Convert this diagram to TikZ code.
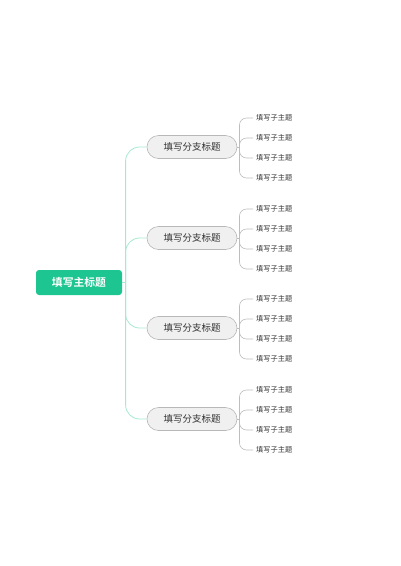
\documentclass[tikz,border=0pt]{standalone}
\usepackage{fontspec}
\newfontfamily\cjk{Noto Sans CJK SC}[BoldFont={Noto Sans CJK SC Bold}]
\usetikzlibrary{positioning}
\definecolor{mainGreen}{HTML}{1DC690}
\definecolor{lineGreen}{HTML}{A6E8D0}
\definecolor{branchFill}{HTML}{F0F0F0}
\definecolor{branchLine}{HTML}{B8B8B8}
\definecolor{leafLine}{HTML}{BDBDBD}
\definecolor{textGray}{HTML}{333333}

\begin{document}
\begin{tikzpicture}[
            x=1pt, y=-1pt,
            main/.style={
                fill=mainGreen, rounded corners=3pt,
                minimum width=86pt, minimum height=25pt,
                text=white, font=\cjk\bfseries\fontsize{10.8}{12}\selectfont
            },
            branch/.style={
                fill=branchFill, draw=branchLine, line width=0.6pt,
                rounded corners=11.5pt,
                minimum width=90pt, minimum height=23pt,
                text=textGray, font=\cjk\fontsize{9.5}{11}\selectfont
            },
            leaf/.style={
                anchor=west, inner xsep=3pt, inner ysep=1pt,
                text=textGray, font=\cjk\fontsize{7.2}{8}\selectfont
            },
            trunk/.style={draw=lineGreen, line width=0.8pt, rounded corners=14pt},
            twig/.style={draw=leafLine, line width=0.6pt, rounded corners=7pt}
        ]
        \useasboundingbox (0, 0) rectangle (400, 566);
        \def\trunkX{125.6}
        \def\forkX{239.5}
        \def\leafX{253}

        \node (topic) at (79, 282.5)[main] {填写主标题};
        \coordinate (hub) at (\trunkX, 282.5);
        \draw[draw=lineGreen, line width=0.8pt] (topic.east) -- (hub);

        % branch one
        \def\by{147}
        \node (branchA) at (192, \by)[branch] {填写分支标题};
        \coordinate (forkA) at (\forkX, \by);
        \node (leafA1) at (\leafX, \by - 29)[leaf] {填写子主题};
        \node (leafA2) at (\leafX, \by - 9)[leaf] {填写子主题};
        \node (leafA3) at (\leafX, \by + 11)[leaf] {填写子主题};
        \node (leafA4) at (\leafX, \by + 31)[leaf] {填写子主题};
        \draw[trunk] (hub) |- (branchA.west);
        \draw[twig] (branchA.east) -- (forkA);
        \draw[twig] (forkA) |- (leafA1.west);
        \draw[twig] (forkA) |- (leafA2.west);
        \draw[twig] (forkA) |- (leafA3.west);
        \draw[twig] (forkA) |- (leafA4.west);

        % branch two
        \def\by{238}
        \node (branchB) at (192, \by)[branch] {填写分支标题};
        \coordinate (forkB) at (\forkX, \by);
        \node (leafB1) at (\leafX, \by - 29)[leaf] {填写子主题};
        \node (leafB2) at (\leafX, \by - 9)[leaf] {填写子主题};
        \node (leafB3) at (\leafX, \by + 11)[leaf] {填写子主题};
        \node (leafB4) at (\leafX, \by + 31)[leaf] {填写子主题};
        \draw[trunk] (hub) |- (branchB.west);
        \draw[twig] (branchB.east) -- (forkB);
        \draw[twig] (forkB) |- (leafB1.west);
        \draw[twig] (forkB) |- (leafB2.west);
        \draw[twig] (forkB) |- (leafB3.west);
        \draw[twig] (forkB) |- (leafB4.west);

        % branch three
        \def\by{328}
        \node (branchC) at (192, \by)[branch] {填写分支标题};
        \coordinate (forkC) at (\forkX, \by);
        \node (leafC1) at (\leafX, \by - 29)[leaf] {填写子主题};
        \node (leafC2) at (\leafX, \by - 9)[leaf] {填写子主题};
        \node (leafC3) at (\leafX, \by + 11)[leaf] {填写子主题};
        \node (leafC4) at (\leafX, \by + 31)[leaf] {填写子主题};
        \draw[trunk] (hub) |- (branchC.west);
        \draw[twig] (branchC.east) -- (forkC);
        \draw[twig] (forkC) |- (leafC1.west);
        \draw[twig] (forkC) |- (leafC2.west);
        \draw[twig] (forkC) |- (leafC3.west);
        \draw[twig] (forkC) |- (leafC4.west);

        % branch four
        \def\by{419}
        \node (branchD) at (192, \by)[branch] {填写分支标题};
        \coordinate (forkD) at (\forkX, \by);
        \node (leafD1) at (\leafX, \by - 29)[leaf] {填写子主题};
        \node (leafD2) at (\leafX, \by - 9)[leaf] {填写子主题};
        \node (leafD3) at (\leafX, \by + 11)[leaf] {填写子主题};
        \node (leafD4) at (\leafX, \by + 31)[leaf] {填写子主题};
        \draw[trunk] (hub) |- (branchD.west);
        \draw[twig] (branchD.east) -- (forkD);
        \draw[twig] (forkD) |- (leafD1.west);
        \draw[twig] (forkD) |- (leafD2.west);
        \draw[twig] (forkD) |- (leafD3.west);
        \draw[twig] (forkD) |- (leafD4.west);
    \end{tikzpicture}
\end{document}
